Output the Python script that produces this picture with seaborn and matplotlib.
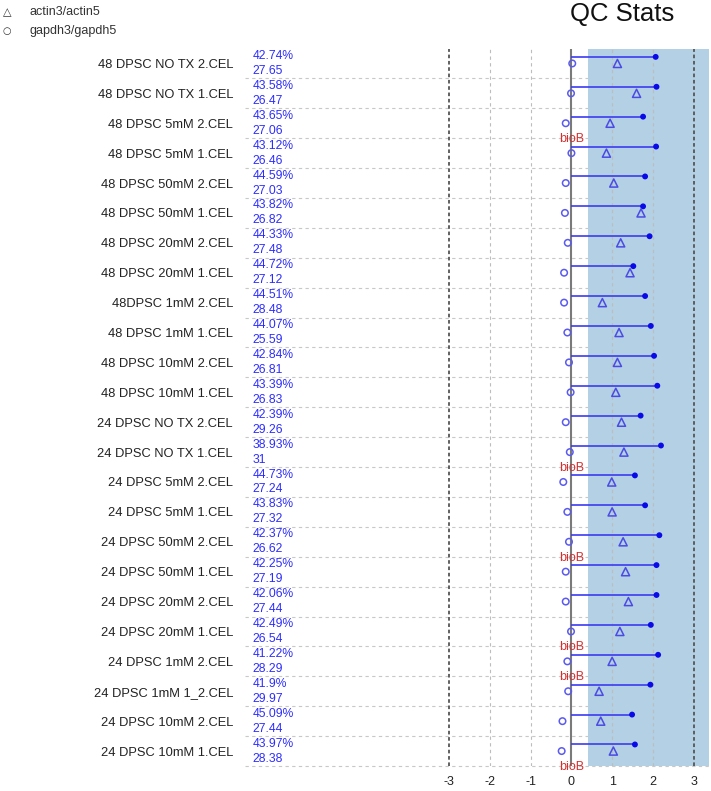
import matplotlib
matplotlib.use('Agg')
import matplotlib.pyplot as plt
import numpy as np
import pandas as pd
import seaborn as sns

# QC data per array (top to bottom)
samples = ['48 DPSC NO TX 2.CEL', '48 DPSC NO TX 1.CEL', '48 DPSC 5mM 2.CEL', '48 DPSC 5mM 1.CEL',
           '48 DPSC 50mM 2.CEL', '48 DPSC 50mM 1.CEL', '48 DPSC 20mM 2.CEL', '48 DPSC 20mM 1.CEL',
           '48DPSC 1mM 2.CEL', '48 DPSC 1mM 1.CEL', '48 DPSC 10mM 2.CEL', '48 DPSC 10mM 1.CEL',
           '24 DPSC NO TX 2.CEL', '24 DPSC NO TX 1.CEL', '24 DPSC 5mM 2.CEL', '24 DPSC 5mM 1.CEL',
           '24 DPSC 50mM 2.CEL', '24 DPSC 50mM 1.CEL', '24 DPSC 20mM 2.CEL', '24 DPSC 20mM 1.CEL',
           '24 DPSC 1mM 2.CEL', '24 DPSC 1mM 1_2.CEL', '24 DPSC 10mM 2.CEL', '24 DPSC 10mM 1.CEL']
pct_present = [42.74, 43.58, 43.65, 43.12, 44.59, 43.82, 44.33, 44.72, 44.51, 44.07, 42.84, 43.39,
               42.39, 38.93, 44.73, 43.83, 42.37, 42.25, 42.06, 42.49, 41.22, 41.9, 45.09, 43.97]
avg_bg = [27.65, 26.47, 27.06, 26.46, 27.03, 26.82, 27.48, 27.12, 28.48, 25.59, 26.81, 26.83,
          29.26, 31, 27.24, 27.32, 26.62, 27.19, 27.44, 26.54, 28.29, 29.97, 27.44, 28.38]
scale_factor = [2.07, 2.09, 1.76, 2.08, 1.81, 1.76, 1.92, 1.52, 1.81, 1.95, 2.03, 2.11,
                1.70, 2.20, 1.56, 1.81, 2.16, 2.09, 2.09, 1.95, 2.13, 1.94, 1.49, 1.56]
actin_ratio = [1.13, 1.60, 0.95, 0.86, 1.04, 1.71, 1.21, 1.44, 0.76, 1.17, 1.13, 1.09,
               1.23, 1.29, 0.99, 1.00, 1.27, 1.33, 1.40, 1.19, 1.00, 0.68, 0.72, 1.03]
gapdh_ratio = [0.02, -0.01, -0.14, 0.00, -0.14, -0.16, -0.09, -0.18, -0.18, -0.10, -0.06, -0.02,
               -0.14, -0.04, -0.20, -0.10, -0.06, -0.14, -0.14, -0.01, -0.10, -0.08, -0.22, -0.24]
biob_missing = [False, False, True, False, False, False, False, False, False, False, False, False,
                False, True, False, False, True, False, False, True, True, False, False, True]
sf_band = (0.405, 3.5)

df = pd.DataFrame({'sample': samples, 'pct': pct_present, 'bg': avg_bg, 'sf': scale_factor,
                   'actin': actin_ratio, 'gapdh': gapdh_ratio, 'biob_missing': biob_missing})
df['row'] = np.arange(len(df))
df['sf_y'] = df['row'] - 0.22

sns.set_style('white')
plt.rcParams['font.family'] = ['Liberation Sans', 'DejaVu Sans']

fig = plt.figure(figsize=(7.11, 7.91), dpi=100)
ax = fig.add_axes([245 / 711, 1 - 766 / 791, (709 - 245) / 711, (766 - 48.5) / 791])
xmin, xmax = -8.02, 3.38
ax.set_xlim(xmin, xmax)
ax.set_ylim(len(df) - 0.5, -0.5)

# row separators and acceptable scale factor band
ax.hlines(df['row'] + 0.5, xmin, xmax, colors='#c8c8c8', linestyles=(0, (3, 3)), lw=0.8, zorder=0, clip_on=False)
ax.axvspan(sf_band[0], sf_band[1], color='#b3d0e4', lw=0, zorder=1)
for v in [-2, -1, 1, 2]:
    ax.axvline(v, color='#bdbdbd', ls=(0, (3, 3)), lw=0.8, zorder=2)
for v in [-3, 3]:
    ax.axvline(v, color='#555555', ls=(0, (2, 1.5)), lw=1.3, zorder=2)
ax.axvline(0, color='#7a7a7a', lw=1.5, zorder=3)

# scale factors
ax.hlines(df['sf_y'], 0, df['sf'], colors='#3c3cf2', lw=1.2, zorder=4)
sns.scatterplot(data=df, x='sf', y='sf_y', color='#0a0ae8', s=18, edgecolor='none', zorder=5, ax=ax)

# 3'/5' ratios
sns.scatterplot(data=df, x='actin', y='row', marker='^', s=34, facecolor='none',
                edgecolor='#4b4be4', linewidth=1.1, zorder=5, ax=ax)
sns.scatterplot(data=df, x='gapdh', y='row', marker='o', s=22, facecolor='none',
                edgecolor='#5a5af0', linewidth=1.1, zorder=5, ax=ax)

for _, r in df.iterrows():
    ax.text(0.017, r['row'] - 0.25, f"{r['pct']:g}%", transform=ax.get_yaxis_transform(),
            color='#2d2dff', fontsize=8.7, va='center', ha='left')
    ax.text(0.017, r['row'] + 0.25, f"{r['bg']:g}", transform=ax.get_yaxis_transform(),
            color='#2d2dff', fontsize=8.7, va='center', ha='left')
    if r['biob_missing']:
        ax.text(0, r['row'] + 0.53, 'bioB', color='#d62f2f', fontsize=9, ha='center', va='center',
                zorder=6, clip_on=False)

ax.set_yticks(df['row'])
ax.set_yticklabels(df['sample'], fontsize=9.3, color='#222222')
ax.set_xticks(range(-3, 4))
ax.set_xticklabels([str(t) for t in range(-3, 4)], fontsize=9, color='#222222')
ax.tick_params(axis='y', length=0, pad=8.6)
ax.tick_params(axis='x', length=0, pad=7.5)
ax.set_xlabel('')
ax.set_ylabel('')
for s in ax.spines.values():
    s.set_visible(False)

fig.text(622 / 711, 1 - 14 / 791, 'QC Stats', ha='center', va='center', fontsize=18.5, color='#111111')
fig.text(7 / 711, 1 - 12 / 791, '\u25b3', family='DejaVu Sans', fontsize=8, ha='center', va='center', color='#333333')
fig.text(7 / 711, 1 - 31 / 791, '\u25cb', family='DejaVu Sans', fontsize=7, ha='center', va='center', color='#333333')
fig.text(30 / 711, 1 - 12 / 791, 'actin3/actin5', fontsize=9, ha='left', va='center', color='#333333')
fig.text(30 / 711, 1 - 31 / 791, 'gapdh3/gapdh5', fontsize=9, ha='left', va='center', color='#333333')

fig.savefig('out.png', dpi=100)
